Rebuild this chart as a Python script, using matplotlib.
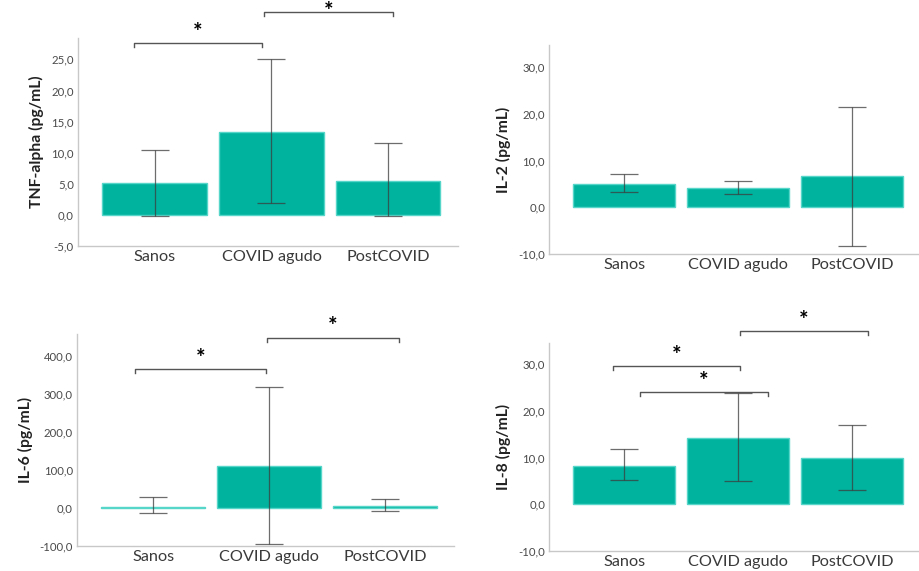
import matplotlib
matplotlib.use("Agg")
import matplotlib.pyplot as plt

plt.rcParams['font.family'] = ['Lato', 'DejaVu Sans']

groups = ["Sanos", "COVID agudo", "PostCOVID"]

tnf_mean = [5.2, 13.3, 5.5]
tnf_low = [-0.1, 1.9, -0.2]
tnf_high = [10.5, 25.0, 11.5]

il2_mean = [4.9, 4.1, 6.6]
il2_low = [3.3, 2.8, -8.3]
il2_high = [7.1, 5.6, 21.5]

il6_mean = [4.0, 112.0, 5.0]
il6_low = [-13.0, -94.0, -9.0]
il6_high = [29.0, 318.0, 24.5]

il8_mean = [8.3, 14.3, 9.9]
il8_low = [5.2, 5.0, 3.1]
il8_high = [11.8, 23.8, 17.0]

tnf_ticks = [-5, 0, 5, 10, 15, 20, 25]
il2_ticks = [-10, 0, 10, 20, 30]
il6_ticks = [-100, 0, 100, 200, 300, 400]
il8_ticks = [-10, 0, 10, 20, 30]

# significance brackets: (x_start, x_end, y)
tnf_sig = [(-0.18, 0.92, 27.6), (0.94, 2.04, 32.6)]
il2_sig = []
il6_sig = [(-0.16, 0.97, 366), (0.98, 2.12, 449)]
il8_sig = [(-0.10, 1.02, 29.6), (0.14, 1.26, 24.1), (1.02, 2.14, 37.1)]

panels = [
    dict(mean=tnf_mean, low=tnf_low, high=tnf_high, ticks=tnf_ticks, ylim=(-5, 28.4),
         label="TNF-alpha (pg/mL)", sig=tnf_sig, rect=[0.0848, 0.569, 0.413, 0.364]),
    dict(mean=il2_mean, low=il2_low, high=il2_high, ticks=il2_ticks, ylim=(-10, 34.7),
         label="IL-2 (pg/mL)", sig=il2_sig, rect=[0.597, 0.555, 0.403, 0.366]),
    dict(mean=il6_mean, low=il6_low, high=il6_high, ticks=il6_ticks, ylim=(-100, 458),
         label="IL-6 (pg/mL)", sig=il6_sig, rect=[0.0837, 0.0438, 0.41, 0.371]),
    dict(mean=il8_mean, low=il8_low, high=il8_high, ticks=il8_ticks, ylim=(-10, 34.5),
         label="IL-8 (pg/mL)", sig=il8_sig, rect=[0.597, 0.035, 0.403, 0.364]),
]

bar_color = "#00B39E"
edge_color = "#55D6C8"
err_color = "#3c3c3c"
spine_color = "#c8c8c8"
text_color = "#3a3a3a"

fig = plt.figure(figsize=(9.2, 5.71), dpi=100)

for p in panels:
    ax = fig.add_axes(p["rect"])
    x = list(range(len(groups)))
    ax.bar(x, p["mean"], width=0.9, color=bar_color, edgecolor=edge_color, linewidth=1.0, zorder=2)
    yerr = [[m - l for m, l in zip(p["mean"], p["low"])],
            [h - m for m, h in zip(p["mean"], p["high"])]]
    ax.errorbar(x, p["mean"], yerr=yerr, fmt="none", ecolor=err_color, elinewidth=0.9,
                capsize=10, capthick=0.9, alpha=0.75, zorder=3)
    ax.set_xlim(-0.66, 2.6)
    ax.set_ylim(*p["ylim"])
    ax.set_yticks(p["ticks"])
    ax.set_yticklabels([f"{t:.1f}".replace(".", ",") for t in p["ticks"]],
                       fontsize=8.2, color="#4a4a4a")
    ax.set_xticks(x)
    ax.set_xticklabels(groups, fontsize=11.7, color=text_color)
    ax.tick_params(axis="both", length=0)
    ax.tick_params(axis="y", pad=3)
    ax.tick_params(axis="x", pad=3)
    ax.set_ylabel(p["label"], fontsize=11.3, fontweight="bold", color="#222222", labelpad=5)
    for s in ("top", "right"):
        ax.spines[s].set_visible(False)
    for s in ("left", "bottom"):
        ax.spines[s].set_color(spine_color)
        ax.spines[s].set_linewidth(1.0)
    ymin, ymax = p["ylim"]
    span = ymax - ymin
    for (x1, x2, y) in p["sig"]:
        leg = 0.02 * span
        ax.plot([x1, x1, x2, x2], [y - leg, y, y, y - leg], color="#555555",
                linewidth=1.0, clip_on=False, zorder=4)
        sx, sy = (x1 + x2) / 2, y + 0.05 * span
        disp = ax.transData.transform((sx, sy))
        fx, fy = fig.transFigure.inverted().transform(disp)
        fy = min(fy, 1 - 0.021)
        fig.text(fx, fy, "*", ha="center", va="center",
                 fontsize=16, fontweight="bold", color="black")

fig.savefig("out.png", dpi=100, facecolor="white")
